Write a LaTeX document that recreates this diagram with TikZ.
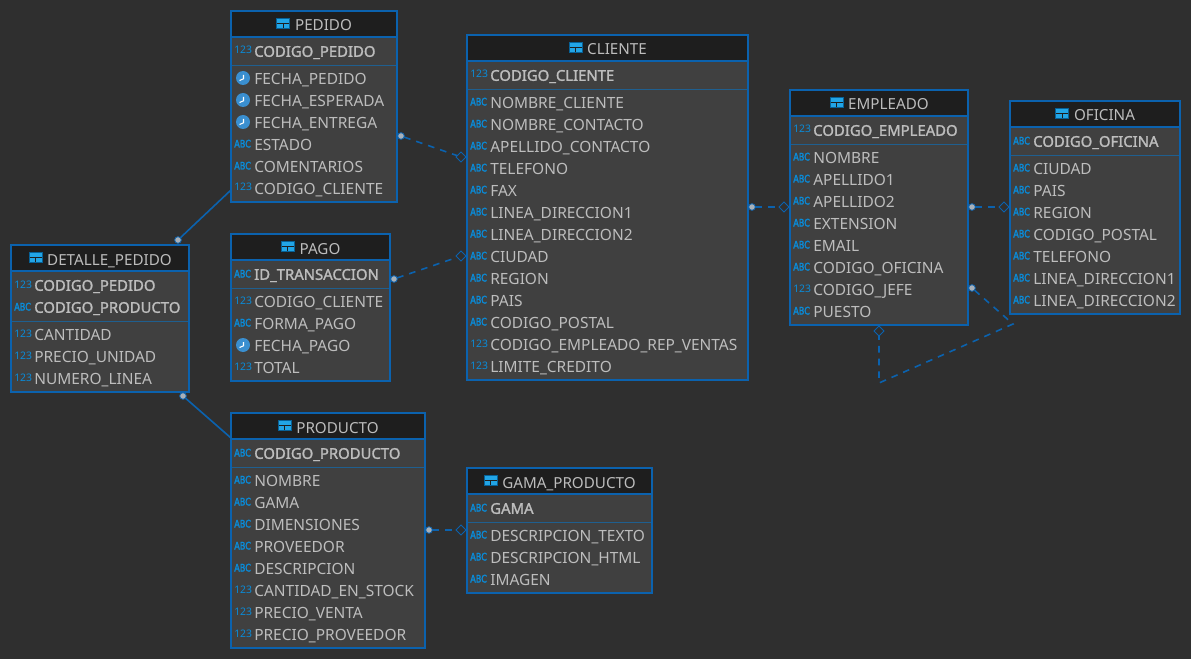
\documentclass[tikz,border=0pt]{standalone}
\usepackage{fontspec}
\setmainfont{Noto Sans}
\newfontfamily\abcfont[FakeBold=2.2,FakeStretch=.78]{DejaVu Sans}
\newfontfamily\pkfont[FakeBold=1.6]{Noto Sans}
\usetikzlibrary{shapes.geometric,calc}
\definecolor{bgc}{HTML}{2F2F2F}
\definecolor{bodyc}{HTML}{404040}
\definecolor{headc}{HTML}{1E1E1E}
\definecolor{edgec}{HTML}{0B62AE}
\definecolor{sepc}{HTML}{1F5F8F}
\definecolor{txtc}{HTML}{BDBDBD}
\definecolor{iconc}{HTML}{0A8BD8}
\definecolor{clockc}{HTML}{3A8FD0}
\definecolor{tblc}{HTML}{22A5E6}
\definecolor{dotc}{HTML}{A8B0B8}
\tikzset{
  tablebox/.style={draw=edgec,line width=1.5pt,inner sep=0pt,outer sep=0pt},
  titletext/.style={inner sep=0pt,text=txtc,font=\fontsize{11.4pt}{13pt}\selectfont,anchor=base},
  rowtext/.style={inner sep=0pt,text=txtc,font=\fontsize{11.6pt}{13pt}\selectfont,anchor=base west},
  pktext/.style={rowtext,font=\fontsize{11.15pt}{13pt}\pkfont\selectfont},
  numicon/.style={inner sep=0pt,text=iconc,anchor=base west,font=\fontsize{7.8pt}{9pt}\selectfont},
  abcicon/.style={inner sep=0pt,text=iconc,anchor=base west,font=\fontsize{7.8pt}{9pt}\abcfont\selectfont},
  reldot/.style={circle,draw=edgec,fill=dotc,line width=.6pt,inner sep=0pt,minimum size=5pt,outer sep=0pt},
  reldiam/.style={diamond,draw=edgec,line width=.7pt,inner sep=0pt,minimum size=7.5pt,aspect=1,outer sep=0pt},
  relline/.style={draw=edgec,line width=1.2pt},
  reldash/.style={relline,dash pattern=on 5pt off 4.5pt},
}
% type: 1 = 123, 2 = ABC, 3 = clock
\newcommand{\rowicon}[4]{% id,type,x,y
  \ifcase#2\or
    \node[numicon] (#1-i) at (#3+3,#4+3) {123};
  \or
    \node[abcicon] (#1-i) at (#3+3,#4+3.5) {ABC};
  \or
    \fill[clockc] (#3+12,#4) circle[radius=5.25pt];
    \draw[white,line width=.8pt] (#3+12.5,#4-3) -- (#3+12.5,#4+.8) -- (#3+8.5,#4+2.5);
  \fi}
\newcommand{\dbtable}[8]{% id,x0,y0,x1,y1,title,pks,rows
  \node[tablebox,fill=bodyc,minimum width=#4pt*.75-#2pt*.75,minimum height=#5pt*.75-#3pt*.75] (#1) at ({(#2+#4)/2},{(#3+#5)/2}) {};
  \fill[headc] (#2,#3) rectangle (#4,#3+26);
  \draw[edgec,line width=.8pt] (#2,#3+26) -- (#4,#3+26);
  \node[titletext] (#1-t) at ({(#2+#4)/2+9.5},#3+20) {#6};
  \path let \p1=(#1-t.west) in coordinate (#1-c) at (\x1-11.5pt*.75,#3+12.5);
  \fill[tblc] ($(#1-c)+(-6.5,-5)$) rectangle ($(#1-c)+(6.5,5)$);
  \draw[headc,line width=.6pt] ($(#1-c)+(-6.5,0)$) -- ($(#1-c)+(6.5,0)$) ($(#1-c)+(0,0)$) -- ($(#1-c)+(0,5)$);
  \draw[iconc!70!black,line width=.6pt] ($(#1-c)+(-6.5,-5)$) rectangle ($(#1-c)+(6.5,5)$);
  \foreach \ty/\tx [count=\k] in {#7}{%
    \pgfmathsetmacro{\yy}{#3+40+22*(\k-1)}
    \rowicon{#1-p\k}{\ty}{#2}{\yy}
    \node[pktext] (#1-p\k) at (#2+23,\yy+5.8) {\tx};
    \xdef\lastpk{\k}
  }
  \pgfmathsetmacro{\ysep}{#3+40+22*(\lastpk-1)+14}
  \draw[sepc,line width=.6pt] (#2,\ysep) -- (#4,\ysep);
  \foreach \ty/\tx [count=\k] in {#8}{%
    \pgfmathsetmacro{\yy}{\ysep+13+22*(\k-1)}
    \rowicon{#1-r\k}{\ty}{#2}{\yy}
    \node[rowtext] (#1-r\k) at (#2+23,\yy+6.2) {\tx};
  }
  \draw[edgec,line width=1.5pt] (#2,#3) rectangle (#4,#5);
}
\begin{document}
\begin{tikzpicture}[x=.75pt,y=-.75pt]
\useasboundingbox (0,0) rectangle (1191,659);
\fill[bgc] (0,0) rectangle (1191,659);

\dbtable{pedido}{231}{11}{397}{202}{PEDIDO}{1/CODIGO\_PEDIDO}{3/FECHA\_PEDIDO,3/FECHA\_ESPERADA,3/FECHA\_ENTREGA,2/ESTADO,2/COMENTARIOS,1/CODIGO\_CLIENTE}
\dbtable{detalle}{11}{245}{189}{392}{DETALLE\_PEDIDO}{1/CODIGO\_PEDIDO,2/CODIGO\_PRODUCTO}{1/CANTIDAD,1/PRECIO\_UNIDAD,1/NUMERO\_LINEA}
\dbtable{pago}{231}{234}{390}{381}{PAGO}{2/ID\_TRANSACCION}{1/CODIGO\_CLIENTE,2/FORMA\_PAGO,3/FECHA\_PAGO,1/TOTAL}
\dbtable{producto}{231}{413}{425}{648}{PRODUCTO}{2/CODIGO\_PRODUCTO}{2/NOMBRE,2/GAMA,2/DIMENSIONES,2/PROVEEDOR,2/DESCRIPCION,1/CANTIDAD\_EN\_STOCK,1/PRECIO\_VENTA,1/PRECIO\_PROVEEDOR}
\dbtable{gama}{467}{468}{652}{593}{GAMA\_PRODUCTO}{2/GAMA}{2/DESCRIPCION\_TEXTO,2/DESCRIPCION\_HTML,2/IMAGEN}
\dbtable{cliente}{467}{35}{748}{380}{CLIENTE}{1/CODIGO\_CLIENTE}{2/NOMBRE\_CLIENTE,2/NOMBRE\_CONTACTO,2/APELLIDO\_CONTACTO,2/TELEFONO,2/FAX,2/LINEA\_DIRECCION1,2/LINEA\_DIRECCION2,2/CIUDAD,2/REGION,2/PAIS,2/CODIGO\_POSTAL,1/CODIGO\_EMPLEADO\_REP\_VENTAS,1/LIMITE\_CREDITO}
\dbtable{empleado}{790}{90}{968}{325}{EMPLEADO}{1/CODIGO\_EMPLEADO}{2/NOMBRE,2/APELLIDO1,2/APELLIDO2,2/EXTENSION,2/EMAIL,2/CODIGO\_OFICINA,1/CODIGO\_JEFE,2/PUESTO}
\dbtable{oficina}{1010}{101}{1180}{314}{OFICINA}{2/CODIGO\_OFICINA}{2/CIUDAD,2/PAIS,2/REGION,2/CODIGO\_POSTAL,2/TELEFONO,2/LINEA\_DIRECCION1,2/LINEA\_DIRECCION2}

% connector end markers
\node[reldot] (d1) at (401,136) {};
\node[reldiam] (m1) at (461,157) {};
\node[reldot] (d2) at (394,279) {};
\node[reldiam] (m2) at (461,256) {};
\node[reldot] (d3) at (752,207) {};
\node[reldiam] (m3) at (784,207) {};
\node[reldot] (d4) at (972,207) {};
\node[reldiam] (m4) at (1004,207) {};
\node[reldot] (d5) at (972,288) {};
\node[reldiam] (m5) at (879,331) {};
\node[reldot] (d6) at (429,530) {};
\node[reldiam] (m6) at (461,530) {};
\node[reldot] (d7) at (178,240) {};
\node[reldot] (d8) at (183,396) {};
\coordinate (k1) at (1013,324);
\coordinate (k2) at (879,383);
\coordinate (s1) at (231,190);
\coordinate (s2) at (231,438);

\draw[reldash] (d1) -- (m1);
\draw[reldash] (d2) -- (m2);
\draw[reldash] (d3) -- (m3);
\draw[reldash] (d4) -- (m4);
\draw[reldash] (d5) -- (k1) -- (k2) -- (m5);
\draw[reldash] (d6) -- (m6);
\draw[relline] (d7) -- (s1);
\draw[relline] (d8) -- (s2);
\end{tikzpicture}
\end{document}
